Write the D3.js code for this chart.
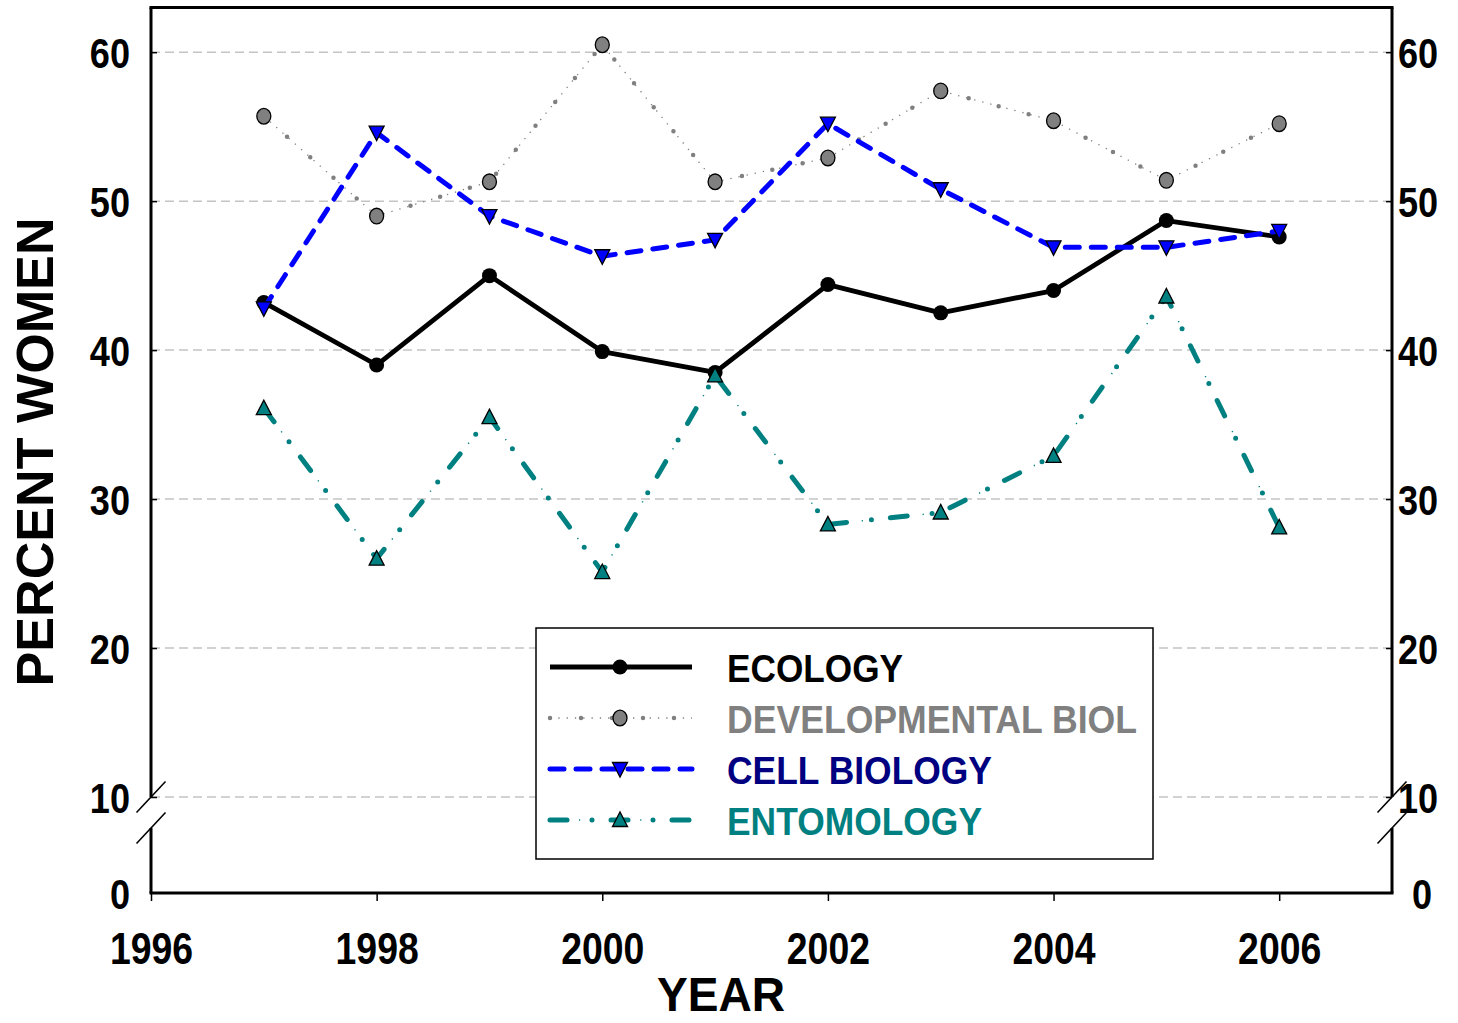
<!DOCTYPE html>
<html>
<head>
<meta charset="utf-8">
<script src="https://cdn.jsdelivr.net/npm/d3@7"></script>
<style>
  html, body { margin: 0; padding: 0; background: #fff; }
  svg { display: block; }
  text { font-family: "Liberation Sans", Arial, Helvetica, sans-serif; font-weight: bold; }
</style>
</head>
<body>
<svg id="chart" width="1458" height="1023"></svg>
<script>
// ---- data ----
const years = [1997, 1998, 1999, 2000, 2001, 2002, 2003, 2004, 2005, 2006];
const ecology    = [43.2, 39.0, 45.0, 39.9, 38.5, 44.4, 42.5, 44.0, 48.7, 47.6];
const devBiol    = [55.7, 49.0, 51.3, 60.5, 51.3, 52.9, 57.4, 55.4, 51.4, 55.2];
const cellBiol   = [42.8, 54.6, 49.0, 46.3, 47.4, 55.2, 50.8, 46.9, 46.9, 48.0];
const entomology = [36.1, 26.0, 35.5, 25.1, 38.3, 28.3, 29.1, 32.9, 43.6, 28.1];
const seriesNames = ["ECOLOGY", "DEVELOPMENTAL BIOL", "CELL BIOLOGY", "ENTOMOLOGY"];
const xTicks = [1996, 1998, 2000, 2002, 2004, 2006];
const yTicksUpper = [10, 20, 30, 40, 50, 60];
const yTicksLower = [0];
const xTitle = "YEAR";
const yTitle = "PERCENT WOMEN";

// ---- layout ----
const svg = d3.select("#chart");
const L = 151, R = 1392, T = 7.5, B = 893;
const upperBottom = 797, lowerTop = 828;

const x = d3.scaleLinear().domain([1996, 2007]).range([L, R]);
const yUp = d3.scaleLinear().domain([10, 63]).range([upperBottom, T]);
const yLow = d3.scaleLinear().domain([0, 5]).range([B, B - 74.5]);

const narrow = (sel, f) => sel.each(function () {
  const w = this.getComputedTextLength();
  d3.select(this).attr("textLength", w * f).attr("lengthAdjust", "spacingAndGlyphs");
});

// grid
svg.append("g").selectAll("line").data(yTicksUpper).join("line")
  .attr("x1", L).attr("x2", R)
  .attr("y1", d => yUp(d)).attr("y2", d => yUp(d))
  .attr("stroke", "#c4c4c4").attr("stroke-width", 1.5).attr("stroke-dasharray", "9,5");

// y axes (left and right) with inward ticks
function styleAxis(g) {
  g.select(".domain").remove();
  g.selectAll(".tick line").attr("stroke", "#000").attr("stroke-width", 1.5);
  g.selectAll(".tick text").attr("font-size", 43).attr("fill", "#000")
    .attr("font-family", '"Liberation Sans", Arial, sans-serif').attr("font-weight", "bold");
}
const gLU = svg.append("g").attr("transform", `translate(${L},0)`)
  .call(d3.axisLeft(yUp).tickValues(yTicksUpper).tickSize(-6).tickPadding(21).tickFormat(d3.format("d")));
const gLL = svg.append("g").attr("transform", `translate(${L},0)`)
  .call(d3.axisLeft(yLow).tickValues(yTicksLower).tickSize(0).tickPadding(21).tickFormat(d3.format("d")));
const gRU = svg.append("g").attr("transform", `translate(${R},0)`)
  .call(d3.axisRight(yUp).tickValues(yTicksUpper).tickSize(-6).tickPadding(6).tickFormat(d3.format("d")));
const gRL = svg.append("g").attr("transform", `translate(${R},0)`)
  .call(d3.axisRight(yLow).tickValues(yTicksLower).tickSize(0).tickPadding(20).tickFormat(d3.format("d")));
[gLU, gLL, gRU, gRL].forEach(g => { styleAxis(g); g.selectAll(".tick text").attr("dy", "0.36em").call(narrow, 0.84); });

// x axis
const gX = svg.append("g").attr("transform", `translate(0,${B})`)
  .call(d3.axisBottom(x).tickValues(xTicks).tickSize(8).tickPadding(32).tickFormat(d3.format("d")));
gX.select(".domain").remove();
gX.selectAll(".tick line").attr("stroke", "#000").attr("stroke-width", 1.5);
gX.selectAll(".tick text").attr("font-size", 44).attr("fill", "#000")
  .attr("font-family", '"Liberation Sans", Arial, sans-serif').attr("font-weight", "bold")
  .attr("dy", "0.71em").call(narrow, 0.85);

// frame with broken axis
const frame = svg.append("g").attr("stroke", "#000").attr("stroke-width", 3).attr("fill", "none");
frame.append("line").attr("x1", L - 1.5).attr("x2", R + 1.5).attr("y1", T).attr("y2", T);
frame.append("line").attr("x1", L - 1.5).attr("x2", R + 1.5).attr("y1", B).attr("y2", B);
[L, R].forEach(xx => {
  frame.append("line").attr("x1", xx).attr("x2", xx).attr("y1", T).attr("y2", upperBottom);
  frame.append("line").attr("x1", xx).attr("x2", xx).attr("y1", lowerTop).attr("y2", B);
  [upperBottom, lowerTop].forEach(yy => {
    svg.append("line").attr("x1", xx - 14.5).attr("y1", yy + 15.5).attr("x2", xx + 14.5).attr("y2", yy - 15.5)
      .attr("stroke", "#000").attr("stroke-width", 1.6);
  });
});

// ---- series ----
const line = d3.line().x((d, i) => x(years[i])).y(d => yUp(d));
const plot = svg.append("g");

function drawSeries(values, styles) {
  styles.forEach(s => {
    plot.append("path").datum(values).attr("d", line).attr("fill", "none")
      .attr("stroke", s.color).attr("stroke-width", s.width)
      .attr("stroke-linecap", s.cap || "butt").attr("stroke-linejoin", "round")
      .attr("stroke-dasharray", s.dash || null);
  });
}
function drawMarkers(values, kind) {
  const g = plot.append("g");
  values.forEach((v, i) => addMarker(g, x(years[i]), yUp(v), kind));
}
function addMarker(g, cx, cy, kind) {
  if (kind === "eco") {
    g.append("circle").attr("cx", cx).attr("cy", cy).attr("r", 7.5).attr("fill", "#000");
  } else if (kind === "dev") {
    g.append("ellipse").attr("cx", cx).attr("cy", cy).attr("rx", 7).attr("ry", 7.8)
      .attr("fill", "#808080").attr("stroke", "#000").attr("stroke-width", 1.3);
  } else if (kind === "cell") {
    g.append("path").attr("d", `M${cx - 7.5},${cy - 6.5}L${cx + 7.5},${cy - 6.5}L${cx},${cy + 8}Z`)
      .attr("fill", "#0000ff").attr("stroke", "#000").attr("stroke-width", 1.3);
  } else {
    g.append("path").attr("d", `M${cx - 7.5},${cy + 6.5}L${cx + 7.5},${cy + 6.5}L${cx},${cy - 8}Z`)
      .attr("fill", "#008080").attr("stroke", "#000").attr("stroke-width", 1.3);
  }
}

const ecoStyle  = [{ color: "#000", width: 4.8 }];
const devStyle  = [{ color: "#808080", width: 1.3, dash: "1.3,7" },
                   { color: "#808080", width: 4.5, cap: "round", dash: "0,31" }];
const cellStyle = [{ color: "#0000ff", width: 5, cap: "round", dash: "14,12" }];
const entoStyle = [{ color: "#008080", width: 5, cap: "round", dash: "17,25,0,19" },
                   { color: "#008080", width: 1.5, dash: "0,29,1.2,31" }];

drawSeries(ecology, ecoStyle);   drawMarkers(ecology, "eco");
drawSeries(devBiol, devStyle);   drawMarkers(devBiol, "dev");
drawSeries(cellBiol, cellStyle); drawMarkers(cellBiol, "cell");
drawSeries(entomology, entoStyle); drawMarkers(entomology, "ento");

// ---- titles ----
svg.append("text").attr("transform", `translate(53,452) rotate(-90)`)
  .attr("text-anchor", "middle").attr("font-size", 52).attr("fill", "#000")
  .text(yTitle).attr("textLength", 469).attr("lengthAdjust", "spacingAndGlyphs");
svg.append("text").attr("x", 721).attr("y", 1011)
  .attr("text-anchor", "middle").attr("font-size", 48).attr("fill", "#000")
  .text(xTitle).attr("textLength", 128).attr("lengthAdjust", "spacingAndGlyphs");

// ---- legend ----
const lg = svg.append("g");
lg.append("rect").attr("x", 536).attr("y", 628).attr("width", 617).attr("height", 231)
  .attr("fill", "#fff").attr("stroke", "#000").attr("stroke-width", 1.5);
const legendItems = [
  { name: seriesNames[0], styles: ecoStyle,  kind: "eco",  text: "#000000", len: 176 },
  { name: seriesNames[1], styles: devStyle,  kind: "dev",  text: "#808080", len: 410 },
  { name: seriesNames[2], styles: cellStyle, kind: "cell", text: "#000080", len: 265 },
  { name: seriesNames[3], styles: entoStyle, kind: "ento", text: "#008080", len: 255 }
];
legendItems.forEach((it, i) => {
  const cy = 667 + i * 51;
  it.styles.forEach(s => {
    lg.append("line").attr("x1", 550).attr("x2", 692).attr("y1", cy).attr("y2", cy)
      .attr("stroke", s.color).attr("stroke-width", s.width)
      .attr("stroke-linecap", s.cap || "butt").attr("stroke-dasharray", s.dash || null);
  });
  addMarker(lg, 620, cy, it.kind);
  lg.append("text").attr("x", 727).attr("y", cy + 14.5).attr("font-size", 39)
    .attr("fill", it.text).text(it.name)
    .attr("textLength", it.len).attr("lengthAdjust", "spacingAndGlyphs");
});
</script>
</body>
</html>
